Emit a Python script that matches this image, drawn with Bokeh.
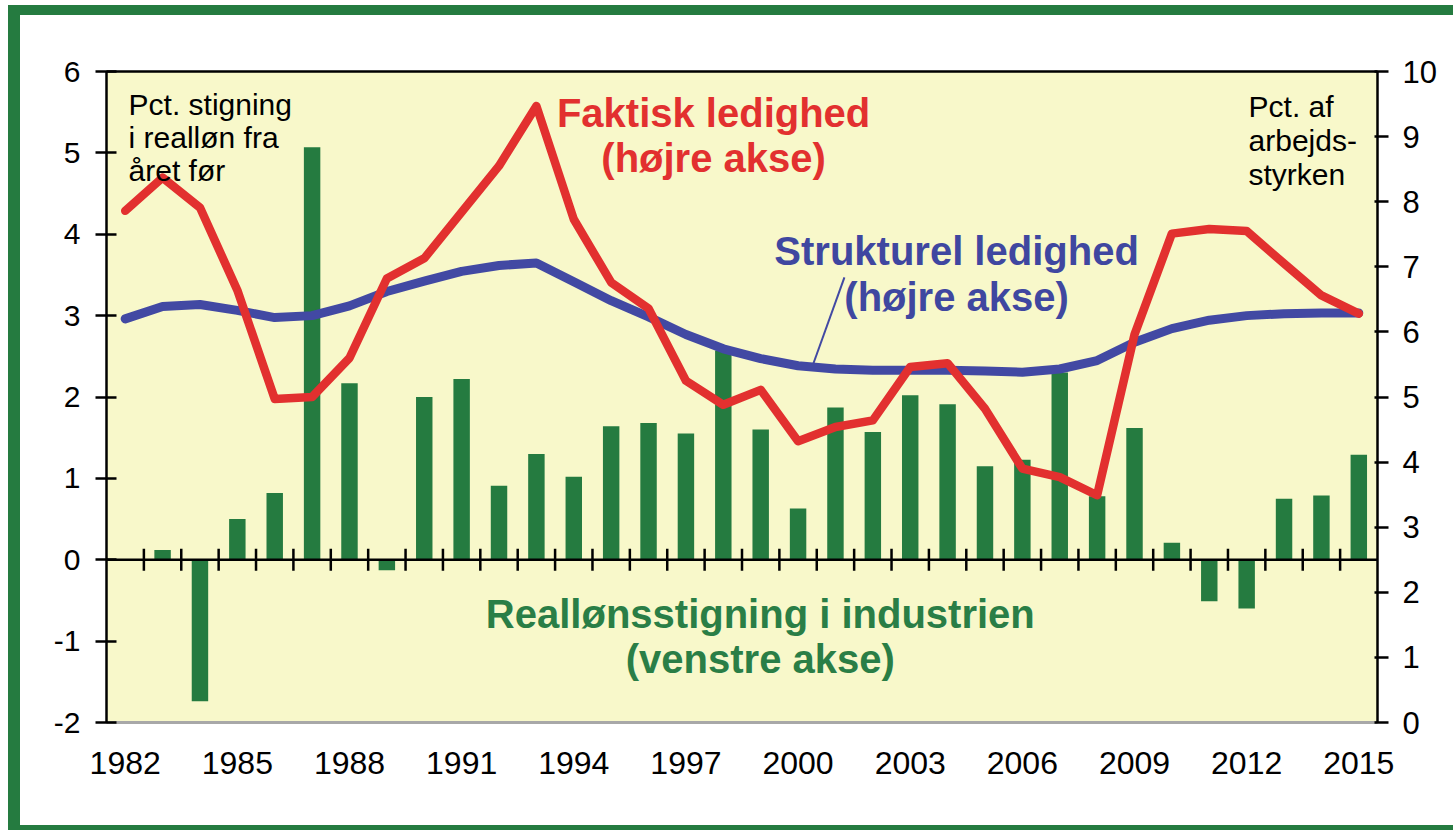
import numpy as np
from bokeh.plotting import figure
from bokeh.models import Range1d, LinearAxis, FixedTicker, Span, Label, PrintfTickFormatter
from bokeh.embed import file_html
from bokeh.resources import INLINE

# ---------------- data ----------------
years = list(range(1982, 2016))

# Real wage growth in manufacturing, pct. (left axis) - 1982 has no bar
wage_growth = [np.nan, 0.12, -1.74, 0.50, 0.82, 5.07, 2.17, -0.13, 2.00, 2.22,
               0.91, 1.30, 1.02, 1.64, 1.68, 1.55, 2.57, 1.60, 0.63, 1.87,
               1.57, 2.02, 1.91, 1.15, 1.23, 2.30, 0.78, 1.62, 0.21, -0.51,
               -0.60, 0.75, 0.79, 1.29]

# Actual unemployment, pct. of labour force (right axis)
actual_unemp = [7.86, 8.37, 7.91, 6.64, 4.97, 5.00, 5.60, 6.82, 7.13, 7.84,
                8.55, 9.47, 7.73, 6.76, 6.36, 5.25, 4.88, 5.11, 4.32, 4.54,
                4.64, 5.46, 5.52, 4.82, 3.90, 3.77, 3.49, 5.96, 7.51, 7.58,
                7.55, 7.05, 6.56, 6.28]

# Structural unemployment, pct. of labour force (right axis)
structural_unemp = [6.20, 6.39, 6.42, 6.33, 6.22, 6.25, 6.40, 6.62, 6.78, 6.93,
                    7.02, 7.06, 6.77, 6.48, 6.23, 5.96, 5.74, 5.59, 5.48, 5.43,
                    5.41, 5.41, 5.41, 5.40, 5.38, 5.43, 5.56, 5.84, 6.05, 6.18,
                    6.25, 6.28, 6.29, 6.29]

x_ticks = [1982, 1985, 1988, 1991, 1994, 1997, 2000, 2003, 2006, 2009, 2012, 2015]
left_ticks = [-2, -1, 0, 1, 2, 3, 4, 5, 6]
right_ticks = [0, 1, 2, 3, 4, 5, 6, 7, 8, 9, 10]

# ---------------- style ----------------
GREEN = "#257B40"
GREEN_TXT = "#2A7E46"
RED = "#E2302F"
BLUE = "#4249A3"
BLUE_TXT = "#3F47A0"
BG = "#F8F8CA"
FONT = "Liberation Sans"

p = figure(width=1433, height=810, output_backend="svg", toolbar_location=None,
           x_range=Range1d(1981.5, 2015.5), y_range=Range1d(-2, 6),
           min_border_left=86, min_border_right=76, min_border_top=56,
           min_border_bottom=103, background_fill_color=BG,
           border_fill_color="white")
# green frame drawn as shadows around the figure (no effect on layout)
p.styles = {"margin-left": "20px", "margin-top": "15px",
            "box-shadow": (f"-12px 0 0 0 {GREEN}, 0 -10px 0 0 {GREEN}, "
                           f"-12px -10px 0 0 {GREEN}, 0 5px 0 0 {GREEN}, "
                           f"-12px 5px 0 0 {GREEN}")}
p.outline_line_color = None
p.xgrid.visible = False
p.ygrid.visible = False
p.extra_y_ranges = {"right": Range1d(0, 10)}

# bottom axis (years)
xa = p.xaxis[0]
xa.ticker = FixedTicker(ticks=x_ticks)
xa.major_tick_in = 0
xa.major_tick_out = 0
xa.minor_tick_line_color = None
xa.axis_line_color = "#A8A8A8"
xa.axis_line_width = 3
xa.major_label_standoff = 29
xa.major_label_text_font = FONT
xa.major_label_text_font_size = "32px"
xa.major_label_text_color = "black"

# left axis
ya = p.yaxis[0]
ya.ticker = FixedTicker(ticks=left_ticks)
ya.formatter = PrintfTickFormatter(format="%d")
ya.major_tick_in = 10
ya.major_tick_out = 11
ya.major_tick_line_width = 2.5
ya.major_tick_line_color = "black"
ya.minor_tick_line_color = None
ya.axis_line_width = 2.5
ya.axis_line_color = "black"
ya.major_label_standoff = 15
ya.major_label_text_font = FONT
ya.major_label_text_font_size = "30px"
ya.major_label_text_color = "black"

# right axis
ra = LinearAxis(y_range_name="right", ticker=FixedTicker(ticks=right_ticks),
                formatter=PrintfTickFormatter(format="%d"))
ra.major_tick_in = 3
ra.major_tick_out = 11
ra.major_tick_line_width = 2.5
ra.major_tick_line_color = "black"
ra.minor_tick_line_color = None
ra.axis_line_width = 2.5
ra.axis_line_color = "black"
ra.major_label_standoff = 14
ra.major_label_text_font = FONT
ra.major_label_text_font_size = "31px"
ra.major_label_text_color = "black"
p.add_layout(ra, "right")

# top border line
ta = LinearAxis(ticker=FixedTicker(ticks=[]), major_tick_in=0, major_tick_out=0,
                minor_tick_line_color=None, major_label_text_font_size="0px",
                axis_line_width=2.5, axis_line_color="black")
p.add_layout(ta, "above")

# bars
p.vbar(x=years, top=wage_growth, bottom=0, width=0.44, fill_color=GREEN,
       line_color=None)

# zero line with ticks between years
p.add_layout(Span(location=0, dimension="width", line_color="black", line_width=2.5))
bounds = [y + 0.5 for y in years[:-1]]
p.segment(x0=bounds, x1=bounds, y0=[-0.135] * len(bounds), y1=[0.135] * len(bounds),
          line_color="black", line_width=2.5)

# black piece of bottom border on the right
p.segment(x0=[2009.2], x1=[2015.5], y0=[-2], y1=[-2], line_color="black", line_width=3)

# lines
p.line(years, structural_unemp, y_range_name="right", line_color=BLUE,
       line_width=9, line_join="round", line_cap="round")
p.line(years, actual_unemp, y_range_name="right", line_color=RED,
       line_width=8.5, line_join="round", line_cap="round")

# leader line for structural label
p.segment(x0=[2001.24], y0=[3.469], x1=[2000.41], y1=[2.412], line_color=BLUE,
          line_width=2)

def lab(x, y, text, color="black", size="30px", style="normal", align="left"):
    p.add_layout(Label(x=x, y=y, text=text, text_color=color, text_font=FONT,
                       text_font_size=size, text_font_style=style,
                       text_align=align, text_baseline="alphabetic"))

lab(1982.09, 5.594, "Pct. stigning")
lab(1982.09, 5.189, "i realløn fra")
lab(1982.09, 4.783, "året før")

lab(2012.05, 5.570, "Pct. af")
lab(2012.05, 5.152, "arbejds-")
lab(2012.05, 4.734, "styrken")

lab(1997.74, 5.484, "Faktisk ledighed", RED, "40px", "bold", "center")
lab(1997.74, 4.931, "(højre akse)", RED, "40px", "bold", "center")

lab(2004.24, 3.800, "Strukturel ledighed", BLUE_TXT, "40px", "bold", "center")
lab(2004.24, 3.223, "(højre akse)", BLUE_TXT, "40px", "bold", "center")

lab(1998.99, -0.661, "Reallønsstigning i industrien", GREEN_TXT, "40px", "bold", "center")
lab(1998.99, -1.214, "(venstre akse)", GREEN_TXT, "40px", "bold", "center")

open("out.html", "w").write(file_html(p, INLINE))
